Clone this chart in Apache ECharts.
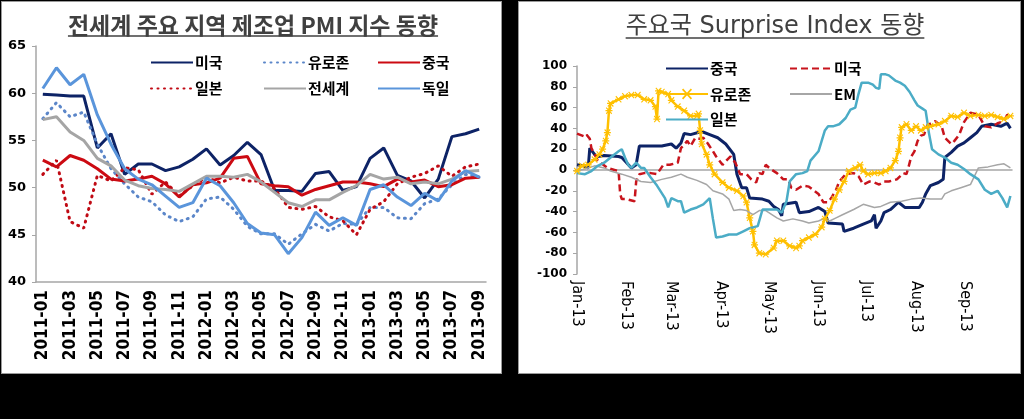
<!DOCTYPE html>
<html>
<head>
<meta charset="utf-8">
<title>PMI / Surprise Index</title>
<script src="https://cdn.jsdelivr.net/npm/echarts@6/dist/echarts.min.js"></script>
<style>
  html, body { margin: 0; padding: 0; background: #000; }
  body { width: 1024px; height: 419px; position: relative; overflow: hidden; }
  .panel { position: absolute; background: #fff; outline: 1px solid #9a9a9a; }
  #pmi { left: 2px; top: 2px; width: 499px; height: 371px; }
  #surprise { left: 519px; top: 2px; width: 501px; height: 371px; }
</style>
</head>
<body>
<div id="pmi" class="panel"></div>
<div id="surprise" class="panel"></div>
<script>
// ---- left: manufacturing PMI (monthly) ----
const months = [
  '2011-01', '2011-02', '2011-03', '2011-04', '2011-05', '2011-06', '2011-07', '2011-08', '2011-09', '2011-10', '2011-11', '2011-12',
  '2012-01', '2012-02', '2012-03', '2012-04', '2012-05', '2012-06', '2012-07', '2012-08', '2012-09', '2012-10', '2012-11', '2012-12',
  '2013-01', '2013-02', '2013-03', '2013-04', '2013-05', '2013-06', '2013-07', '2013-08', '2013-09'
]
const usPmi = [59.9, 59.8, 59.7, 59.7, 54.2, 55.7, 51.4, 52.5, 52.5, 51.8, 52.2, 53.0, 54.1, 52.4, 53.4, 54.8, 53.5, 49.7, 49.7, 49.6, 51.5, 51.7, 49.7, 50.1, 53.1, 54.2, 51.3, 50.7, 48.9, 50.9, 55.4, 55.7, 56.2]
const euroPmi = [57.3, 59.0, 57.5, 58.0, 54.6, 52.0, 50.4, 49.0, 48.5, 47.1, 46.4, 46.9, 48.8, 49.0, 47.7, 45.9, 45.1, 45.1, 44.0, 45.1, 46.1, 45.4, 46.2, 46.1, 47.9, 47.9, 46.8, 46.7, 48.3, 48.8, 50.3, 51.4, 51.1]
const chinaPmi = [52.9, 52.2, 53.4, 52.9, 52.0, 50.9, 50.7, 50.9, 51.2, 50.4, 49.0, 50.3, 50.5, 51.0, 53.1, 53.3, 50.4, 50.2, 50.1, 49.2, 49.8, 50.2, 50.6, 50.6, 50.4, 50.1, 50.9, 50.6, 50.8, 50.1, 50.3, 51.0, 51.1]
const japanPmi = [51.4, 52.9, 46.4, 45.7, 51.3, 50.7, 52.1, 51.9, 49.3, 50.6, 49.1, 50.2, 51.1, 50.5, 51.1, 50.7, 50.7, 49.9, 47.9, 47.7, 48.0, 46.9, 46.5, 45.0, 47.7, 48.5, 50.4, 51.1, 51.5, 52.3, 51.2, 52.2, 52.5]
const globalPmi = [57.2, 57.5, 55.9, 55.0, 53.1, 52.3, 50.8, 50.2, 49.9, 49.8, 49.6, 50.4, 51.2, 51.2, 51.1, 51.4, 50.6, 49.5, 48.4, 48.0, 48.7, 48.7, 49.5, 50.2, 51.4, 50.9, 51.1, 50.4, 50.6, 50.4, 50.9, 51.7, 51.8]
const germanyPmi = [60.5, 62.7, 60.9, 62.0, 57.7, 54.6, 52.0, 50.9, 50.3, 49.1, 47.9, 48.4, 51.0, 50.2, 48.4, 46.2, 45.2, 45.0, 43.0, 44.7, 47.4, 46.0, 46.8, 46.0, 49.8, 50.3, 49.0, 48.1, 49.4, 48.6, 50.7, 51.8, 51.1]

// ---- right: surprise index (daily, read at turning points) ----
const chinaSurprise = [
  ['2013-01-01', 5], ['2013-01-05', 4], ['2013-01-08', 2], ['2013-01-09', 21], ['2013-01-12', 15], ['2013-01-14', 13],
  ['2013-01-18', 14], ['2013-01-27', 13], ['2013-01-29', 12], ['2013-02-01', 7], ['2013-02-04', 2], ['2013-02-07', 5],
  ['2013-02-09', 23], ['2013-02-16', 23], ['2013-02-23', 23], ['2013-03-01', 25], ['2013-03-04', 21], ['2013-03-07', 26],
  ['2013-03-09', 35], ['2013-03-13', 34], ['2013-03-20', 37], ['2013-03-25', 34], ['2013-03-30', 31], ['2013-04-04', 25],
  ['2013-04-09', 15], ['2013-04-11', -4], ['2013-04-14', -17], ['2013-04-17', -17], ['2013-04-19', -27], ['2013-04-27', -28],
  ['2013-05-01', -30], ['2013-05-04', -35], ['2013-05-07', -38], ['2013-05-09', -44], ['2013-05-10', -33], ['2013-05-18', -31],
  ['2013-05-20', -41], ['2013-05-26', -40], ['2013-06-01', -36], ['2013-06-05', -40], ['2013-06-07', -51], ['2013-06-16', -52],
  ['2013-06-17', -59], ['2013-06-23', -56], ['2013-06-29', -52], ['2013-07-04', -49], ['2013-07-06', -43], ['2013-07-07', -56],
  ['2013-07-10', -49], ['2013-07-12', -41], ['2013-07-16', -38], ['2013-07-21', -31], ['2013-07-25', -36], ['2013-08-03', -36],
  ['2013-08-05', -31], ['2013-08-07', -23], ['2013-08-10', -15], ['2013-08-15', -12], ['2013-08-18', -9], ['2013-08-19', 12],
  ['2013-08-23', 17], ['2013-08-27', 23], ['2013-08-31', 26], ['2013-09-04', 31], ['2013-09-08', 36], ['2013-09-11', 42],
  ['2013-09-17', 44], ['2013-09-23', 42], ['2013-09-27', 45], ['2013-09-29', 40]
]
const usSurprise = [
  ['2013-01-01', 35], ['2013-01-06', 32], ['2013-01-07', 34], ['2013-01-09', 30], ['2013-01-10', 21], ['2013-01-14', 9],
  ['2013-01-20', 2], ['2013-01-27', -1], ['2013-01-28', -23], ['2013-01-29', -28], ['2013-02-01', -28], ['2013-02-06', -30],
  ['2013-02-07', -11], ['2013-02-09', -4], ['2013-02-12', -3], ['2013-02-16', -3], ['2013-02-20', -4], ['2013-02-24', 5],
  ['2013-02-28', 5], ['2013-03-05', 7], ['2013-03-07', 21], ['2013-03-11', 28], ['2013-03-13', 23], ['2013-03-16', 31],
  ['2013-03-19', 30], ['2013-03-21', 31], ['2013-03-24', 25], ['2013-03-27', 18], ['2013-03-29', 13], ['2013-04-02', 5],
  ['2013-04-05', 10], ['2013-04-07', 13], ['2013-04-10', 7], ['2013-04-13', -4], ['2013-04-17', -4], ['2013-04-20', -9],
  ['2013-04-23', -12], ['2013-04-25', -3], ['2013-04-27', -4], ['2013-04-29', 5], ['2013-05-02', 1], ['2013-05-06', -3],
  ['2013-05-10', -9], ['2013-05-13', -9], ['2013-05-15', -17], ['2013-05-18', -19], ['2013-05-22', -15], ['2013-05-26', -16],
  ['2013-06-01', -23], ['2013-06-04', -31], ['2013-06-07', -31], ['2013-06-09', -27], ['2013-06-12', -19], ['2013-06-14', -11],
  ['2013-06-18', -4], ['2013-06-23', -3], ['2013-06-26', -6], ['2013-06-29', -14], ['2013-07-03', -11], ['2013-07-06', -12],
  ['2013-07-09', -14], ['2013-07-12', -11], ['2013-07-15', -11], ['2013-07-20', -9], ['2013-07-24', -3], ['2013-07-26', -4],
  ['2013-07-27', 1], ['2013-07-29', 13], ['2013-07-31', 18], ['2013-08-02', 28], ['2013-08-04', 33], ['2013-08-06', 34],
  ['2013-08-08', 43], ['2013-08-13', 47], ['2013-08-17', 42], ['2013-08-19', 31], ['2013-08-23', 25], ['2013-08-25', 28],
  ['2013-08-28', 34], ['2013-08-31', 46], ['2013-09-04', 55], ['2013-09-09', 53], ['2013-09-13', 42], ['2013-09-17', 41],
  ['2013-09-21', 45], ['2013-09-25', 47], ['2013-09-27', 53], ['2013-09-29', 52]
]
const euroSurprise = [
  ['2013-01-01', -1], ['2013-01-04', 4], ['2013-01-08', 5], ['2013-01-12', 10], ['2013-01-15', 15], ['2013-01-17', 20],
  ['2013-01-19', 28], ['2013-01-20', 36], ['2013-01-21', 57], ['2013-01-22', 64], ['2013-01-27', 68], ['2013-01-31', 71],
  ['2013-02-04', 72], ['2013-02-08', 72], ['2013-02-12', 68], ['2013-02-16', 67], ['2013-02-19', 61], ['2013-02-20', 49],
  ['2013-02-21', 76], ['2013-02-23', 75], ['2013-02-27', 73], ['2013-03-01', 67], ['2013-03-05', 61], ['2013-03-09', 57],
  ['2013-03-13', 52], ['2013-03-17', 52], ['2013-03-18', 54], ['2013-03-19', 38], ['2013-03-20', 25], ['2013-03-23', 15],
  ['2013-03-25', 5], ['2013-03-28', -4], ['2013-04-02', -12], ['2013-04-06', -17], ['2013-04-11', -20], ['2013-04-15', -25],
  ['2013-04-17', -31], ['2013-04-19', -46], ['2013-04-21', -59], ['2013-04-22', -72], ['2013-04-25', -80], ['2013-04-29', -81],
  ['2013-05-04', -75], ['2013-05-06', -68], ['2013-05-10', -68], ['2013-05-14', -73], ['2013-05-18', -75], ['2013-05-20', -73],
  ['2013-05-22', -68], ['2013-05-26', -65], ['2013-05-30', -62], ['2013-06-03', -55], ['2013-06-05', -47], ['2013-06-08', -39],
  ['2013-06-11', -28], ['2013-06-14', -19], ['2013-06-17', -11], ['2013-06-20', -1], ['2013-06-24', 2], ['2013-06-27', 5],
  ['2013-06-29', -1], ['2013-07-02', -4], ['2013-07-06', -3], ['2013-07-10', -3], ['2013-07-13', -1], ['2013-07-16', 2],
  ['2013-07-19', 9], ['2013-07-21', 18], ['2013-07-22', 31], ['2013-07-23', 41], ['2013-07-26', 44], ['2013-07-29', 38],
  ['2013-08-01', 42], ['2013-08-04', 38], ['2013-08-07', 41], ['2013-08-10', 42], ['2013-08-15', 44], ['2013-08-19', 47],
  ['2013-08-23', 52], ['2013-08-27', 51], ['2013-08-31', 55], ['2013-09-04', 52], ['2013-09-09', 53], ['2013-09-13', 52],
  ['2013-09-17', 53], ['2013-09-21', 51], ['2013-09-25', 49], ['2013-09-29', 52]
]
const emSurprise = [
  ['2013-01-01', -1], ['2013-01-06', 1], ['2013-01-12', 4], ['2013-01-18', 2], ['2013-01-22', -1], ['2013-01-29', -4],
  ['2013-02-04', -7], ['2013-02-10', -11], ['2013-02-16', -12], ['2013-02-23', -9], ['2013-03-01', -7], ['2013-03-07', -4],
  ['2013-03-11', -7], ['2013-03-17', -10], ['2013-03-23', -14], ['2013-03-27', -20], ['2013-04-02', -23], ['2013-04-06', -28],
  ['2013-04-09', -39], ['2013-04-13', -38], ['2013-04-17', -39], ['2013-04-21', -43], ['2013-04-25', -39], ['2013-04-29', -39],
  ['2013-05-06', -46], ['2013-05-10', -49], ['2013-05-16', -47], ['2013-05-22', -49], ['2013-05-26', -51], ['2013-06-01', -49],
  ['2013-06-04', -47], ['2013-06-08', -49], ['2013-06-12', -46], ['2013-06-16', -43], ['2013-06-23', -38], ['2013-06-29', -33],
  ['2013-07-06', -36], ['2013-07-10', -35], ['2013-07-16', -31], ['2013-07-23', -30], ['2013-07-29', -28], ['2013-08-04', -27],
  ['2013-08-10', -28], ['2013-08-17', -28], ['2013-08-19', -23], ['2013-08-23', -20], ['2013-08-29', -17], ['2013-09-04', -14],
  ['2013-09-09', 2], ['2013-09-15', 3], ['2013-09-21', 5], ['2013-09-25', 6], ['2013-09-29', 2]
]
const japanSurprise = [
  ['2013-01-01', -3], ['2013-01-06', -4], ['2013-01-10', -1], ['2013-01-14', 4], ['2013-01-18', 7], ['2013-01-22', 12],
  ['2013-01-27', 18], ['2013-01-29', 20], ['2013-01-31', 12], ['2013-02-02', 5], ['2013-02-04', 2], ['2013-02-07', 7],
  ['2013-02-10', 2], ['2013-02-12', 2], ['2013-02-16', -7], ['2013-02-20', -15], ['2013-02-25', -27], ['2013-02-27', -36],
  ['2013-03-01', -27], ['2013-03-05', -30], ['2013-03-07', -30], ['2013-03-09', -41], ['2013-03-13', -38], ['2013-03-17', -36],
  ['2013-03-21', -33], ['2013-03-25', -27], ['2013-03-27', -47], ['2013-03-29', -65], ['2013-04-02', -64], ['2013-04-06', -62],
  ['2013-04-11', -62], ['2013-04-15', -59], ['2013-04-19', -56], ['2013-04-24', -54], ['2013-04-27', -38], ['2013-05-06', -38],
  ['2013-05-09', -41], ['2013-05-12', -30], ['2013-05-14', -11], ['2013-05-18', -4], ['2013-05-22', -3], ['2013-05-25', -1],
  ['2013-05-27', 9], ['2013-06-01', 18], ['2013-06-03', 28], ['2013-06-05', 38], ['2013-06-06', 39], ['2013-06-07', 42],
  ['2013-06-10', 42], ['2013-06-14', 44], ['2013-06-18', 50], ['2013-06-21', 58], ['2013-06-24', 60], ['2013-06-26', 73],
  ['2013-06-28', 84], ['2013-07-02', 84], ['2013-07-05', 82], ['2013-07-07', 79], ['2013-07-09', 78], ['2013-07-10', 92],
  ['2013-07-13', 92], ['2013-07-15', 91], ['2013-07-19', 86], ['2013-07-22', 84], ['2013-07-25', 81], ['2013-07-28', 75],
  ['2013-07-31', 67], ['2013-08-02', 62], ['2013-08-05', 59], ['2013-08-07', 57], ['2013-08-08', 47], ['2013-08-09', 36],
  ['2013-08-10', 28], ['2013-08-11', 20], ['2013-08-15', 15], ['2013-08-19', 12], ['2013-08-23', 7], ['2013-08-27', 5],
  ['2013-08-31', 1], ['2013-09-04', -4], ['2013-09-09', -9], ['2013-09-13', -19], ['2013-09-17', -23], ['2013-09-21', -20],
  ['2013-09-24', -27], ['2013-09-27', -36], ['2013-09-29', -25]
]

const CJK = "'Noto Sans CJK KR', sans-serif"
const NARROW = "'Liberation Sans Narrow', 'DejaVu Sans Condensed', sans-serif"
const AXIS_GRAY = '#a6a6a6'
const STAR = 'path://M0,4.2L10,4.2L10,5.8L0,5.8Z M0.5,1.6L1.6,0.5L9.5,8.4L8.4,9.5Z M8.4,0.5L9.5,1.6L1.6,9.5L0.5,8.4Z'

function textWidth (text, font) {
  const ctx = document.createElement('canvas').getContext('2d')
  ctx.font = font
  return ctx.measureText(text).width
}

// underlined title as graphic text + line
function underlinedTitle (text, cx, cy, lineY, size, weight, family) {
  const font = weight + ' ' + size + 'px ' + family
  const w = textWidth(text, font)
  return [
    {
      type: 'text',
      x: cx,
      y: cy,
      style: { text, font, fill: '#404040', align: 'center', verticalAlign: 'middle' }
    },
    {
      type: 'line',
      shape: { x1: cx - w / 2, y1: lineY, x2: cx + w / 2, y2: lineY },
      style: { stroke: '#404040', lineWidth: 1.5 }
    }
  ]
}

// one legend column; the line icon keeps only its stroke (no marker) unless listed in keepMarker
function legendCol (names, left, top, gap, keepMarker) {
  return {
    data: names.map(name => (keepMarker === name ? { name, itemStyle: { opacity: 1 } } : name)),
    orient: 'vertical',
    left,
    top,
    itemWidth: 42,
    itemHeight: 14,
    itemGap: gap,
    selectedMode: false,
    itemStyle: { opacity: 0 },
    textStyle: { fontFamily: CJK, fontSize: 15, fontWeight: 'bold', color: '#000', padding: [0, 0, 0, -3] }
  }
}

function pmiLine (name, data, color, dotted) {
  return {
    name,
    type: 'line',
    data,
    symbol: 'none',
    itemStyle: { color },
    lineStyle: dotted
      ? { color, width: 3, type: [1, 5.5], cap: 'round' }
      : { color, width: 3 }
  }
}

function surpriseLine (name, data, color, width, type) {
  return {
    name,
    type: 'line',
    data,
    symbol: 'none',
    itemStyle: { color },
    lineStyle: { color, width, type: type || 'solid' }
  }
}

const pmiChart = echarts.init(document.getElementById('pmi'))
pmiChart.setOption({
  animation: false,
  graphic: underlinedTitle('전세계 주요 지역 제조업 PMI 지수 동향', 251, 23, 34, 23, 'bold', CJK),
  legend: [
    legendCol(['미국', '일본'], 143, 48, 11),
    legendCol(['유로존', '전세계'], 256, 48, 11),
    legendCol(['중국', '독일'], 370, 48, 11)
  ],
  grid: { left: 34, top: 44, width: 450, height: 236 },
  xAxis: {
    type: 'category',
    data: months,
    boundaryGap: true,
    axisLine: { lineStyle: { color: AXIS_GRAY, width: 1.5 } },
    axisTick: { interval: 0, length: 4, lineStyle: { color: AXIS_GRAY } },
    axisLabel: {
      interval: 1,
      rotate: 90,
      margin: 8,
      color: '#000',
      fontFamily: NARROW,
      fontSize: 17,
      fontWeight: 'bold'
    }
  },
  yAxis: {
    type: 'value',
    min: 40,
    max: 65,
    interval: 5,
    axisLine: { show: true, lineStyle: { color: AXIS_GRAY, width: 1.5 } },
    axisTick: { show: true, length: 4, lineStyle: { color: AXIS_GRAY } },
    splitLine: { show: false },
    axisLabel: { color: '#000', fontFamily: "'DejaVu Sans', sans-serif", fontSize: 13, fontWeight: 'bold', margin: 10 }
  },
  series: [
    pmiLine('미국', usPmi, '#0d2366', false),
    pmiLine('유로존', euroPmi, '#5b86c9', true),
    pmiLine('중국', chinaPmi, '#cc0a12', false),
    pmiLine('일본', japanPmi, '#c00a14', true),
    pmiLine('전세계', globalPmi, '#a5a5a5', false),
    pmiLine('독일', germanyPmi, '#5a95db', false)
  ]
})

const surpriseChart = echarts.init(document.getElementById('surprise'))
surpriseChart.setOption({
  animation: false,
  graphic: underlinedTitle('주요국 Surprise Index 동향', 256, 25, 36, 24, 'normal', "'DejaVu Sans', 'Noto Sans CJK KR', sans-serif"),
  legend: [
    legendCol(['중국', '유로존', '일본'], 141, 54, 10.5, '유로존'),
    legendCol(['미국', 'EM'], 265, 54, 10.5)
  ],
  grid: { left: 58, top: 64, width: 435, height: 208 },
  xAxis: [
    {
      type: 'time',
      min: '2013-01-01',
      max: '2013-09-30',
      minInterval: 28 * 86400000,
      maxInterval: 31 * 86400000,
      axisLine: { show: false, onZero: false },
      axisTick: { show: false },
      splitLine: { show: false },
      axisLabel: {
        rotate: -90,
        margin: 7,
        color: '#000',
        fontFamily: NARROW,
        fontSize: 16,
        formatter: '{MMM}-{yy}',
        showMinLabel: true,
        showMaxLabel: false,
        hideOverlap: false
      }
    },
    {
      type: 'time',
      min: '2013-01-01',
      max: '2013-09-30',
      position: 'bottom',
      axisLine: { show: true, onZero: true, lineStyle: { color: AXIS_GRAY, width: 1.5 } },
      axisTick: { show: false },
      axisLabel: { show: false },
      splitLine: { show: false }
    }
  ],
  yAxis: {
    type: 'value',
    min: -100,
    max: 100,
    interval: 20,
    axisLine: { show: true, lineStyle: { color: AXIS_GRAY, width: 1.5 } },
    axisTick: { show: true, length: 4, lineStyle: { color: AXIS_GRAY } },
    splitLine: { show: false },
    axisLabel: { color: '#000', fontFamily: "'DejaVu Sans', sans-serif", fontSize: 12, fontWeight: 'bold', margin: 10 }
  },
  series: [
    surpriseLine('중국', chinaSurprise, '#0d2366', 3),
    surpriseLine('미국', usSurprise, '#c8141c', 2.5, [7, 4]),
    Object.assign(surpriseLine('유로존', euroSurprise, '#ffc000', 2.5), {
      symbol: STAR,
      symbolSize: 7,
      showSymbol: true
    }),
    surpriseLine('EM', emSurprise, '#a6a6a6', 1.5),
    surpriseLine('일본', japanSurprise, '#4bacc6', 2.5)
  ]
})
</script>
</body>
</html>
